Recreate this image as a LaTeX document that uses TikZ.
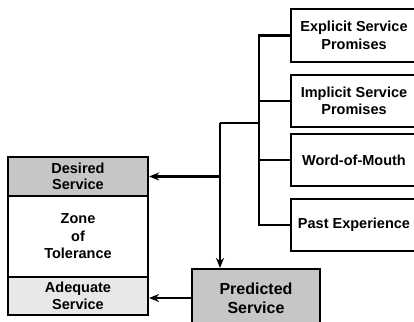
\documentclass[tikz,border=0pt]{standalone}
\usepackage{fontspec}
\setmainfont{Liberation Sans}
\usetikzlibrary{arrows.meta,positioning,calc}

\begin{document}
\begin{tikzpicture}[
                x=1pt, y=-1pt,
                box/.style={draw, line width=2.2pt, align=center, inner sep=2pt,
                    font=\fontsize{14.5}{17.5}\selectfont\bfseries},
                src/.style={box, minimum width=126pt, minimum height=52pt},
                level/.style={box, minimum width=140pt},
                conn/.style={line width=2.2pt},
                arrow/.style={conn, -{Stealth[length=10pt,width=8pt]}}
            ]
                \clip (0,0) rectangle (414,321);
                \fill[white] (0,0) rectangle (414,321);

                % Expectation sources
                \node[src, minimum height=53pt] (explicit) at (354, 35.5) {Explicit Service\\Promises};
                \node[src] (implicit) at (354, 101) {Implicit Service\\Promises};
                \node[src] (wom) at (354, 160) {Word-of-Mouth};
                \node[src] (past) at (354, 225) {Past Experience};

                % Expected service levels
                \node[level, fill=gray!45, minimum height=39pt,
                      font=\fontsize{14.5}{16}\selectfont\bfseries] (desired) at (78, 176.5) {Desired\\Service};
                \node[level, minimum height=81pt] (zone) at (78, 236.5) {Zone\\of\\Tolerance};
                \node[level, fill=gray!18, minimum height=38pt] (adequate) at (78, 296) {Adequate\\Service};

                \node[box, fill=gray!45, minimum width=128pt, minimum height=58pt,
                      font=\fontsize{16}{19}\selectfont\bfseries] (predicted) at (256, 298) {Predicted\\Service};

                \coordinate (join) at (260, 123);
                \coordinate (split) at (220, 123);

                \draw[conn] (explicit.west) -- ++(-31,0) |- (past.west);
                \draw[conn] (implicit.west) -- ++(-31,0);
                \draw[conn] (wom.west) -- ++(-31,0);
                \draw[conn] (join) -- (split);

                \draw[arrow] (split) -- (split |- predicted.north);
                \draw[arrow] (split |- desired.east) -- (desired.east);
                \draw[arrow] (predicted.west) -- (predicted.west -| adequate.east);
            \end{tikzpicture}
\end{document}
